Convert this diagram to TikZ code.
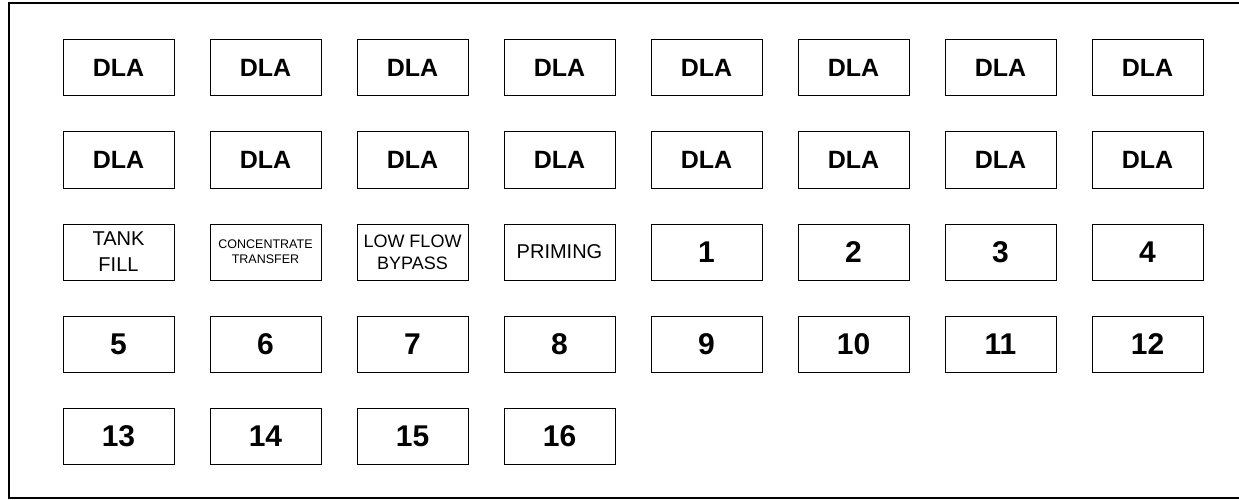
\documentclass[tikz,border=0pt]{standalone}
\usepackage{fontspec}
\setmainfont{Liberation Sans}
\begin{document}
\begin{tikzpicture}[x=1pt,y=-1pt,
  keybox/.style={draw=black,line width=1pt,minimum width=111pt,minimum height=56pt,inner sep=0pt,align=center,fill=white},
  dlatext/.style={font=\fontsize{25}{28}\selectfont\bfseries},
  numtext/.style={font=\fontsize{30}{32}\selectfont\bfseries},
  bigtext/.style={font=\fontsize{20}{26}\selectfont},
  midtext/.style={font=\fontsize{18}{22}\selectfont},
  smalltext/.style={font=\fontsize{12.5}{15}\selectfont}]
\useasboundingbox (0,0) rectangle (1239,500);
\fill[white] (0,0) rectangle (1239,500);
\draw[line width=1.5pt] (1239,3) -- (9,3) -- (9,498) -- (1239,498);
% rows 1-2: DLA
\foreach \r in {0,1}{
  \foreach \c in {0,...,7}{
    \node[keybox,dlatext] (b\r\c) at ({118.5+147*\c},{68+92*\r}) {DLA};
  }
}
% row 3
\node[keybox,bigtext] (b20) at (118.5,252) {TANK\\FILL};
\node[keybox,smalltext] (b21) at (265.5,252) {CONCENTRATE\\TRANSFER};
\node[keybox,midtext] (b22) at (412.5,252) {LOW FLOW\\BYPASS};
\node[keybox,bigtext] (b23) at (559.5,252) {PRIMING};
\foreach \c/\t in {4/1,5/2,6/3,7/4}{
  \node[keybox,numtext] (b2\c) at ({118.5+147*\c},252) {\t};
}
% row 4
\foreach \c in {0,...,7}{
  \pgfmathtruncatemacro{\n}{5+\c}
  \node[keybox,numtext] (b3\c) at ({118.5+147*\c},344) {\n};
}
% row 5
\foreach \c in {0,...,3}{
  \pgfmathtruncatemacro{\n}{13+\c}
  \node[keybox,numtext] (b4\c) at ({118.5+147*\c},436) {\n};
}
\end{tikzpicture}
\end{document}
